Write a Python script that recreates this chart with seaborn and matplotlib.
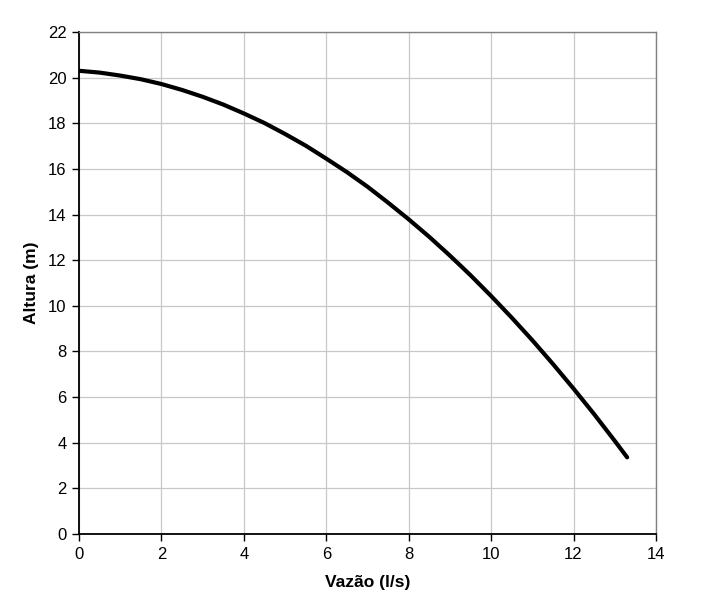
import matplotlib
matplotlib.use("Agg")
import matplotlib.pyplot as plt
import seaborn as sns
import pandas as pd

# Curva da bomba
vazao = [0, 0.5, 1, 1.5, 2, 2.5, 3, 3.5, 4, 4.5, 5, 5.5, 6, 6.5, 7, 7.5,
         8, 8.5, 9, 9.5, 10, 10.5, 11, 11.5, 12, 12.5, 13, 13.3]
altura = [20.3, 20.22, 20.09, 19.93, 19.72, 19.46, 19.16, 18.82, 18.43, 18.01,
          17.53, 17.02, 16.45, 15.86, 15.22, 14.52, 13.79, 13.02, 12.2, 11.34,
          10.43, 9.48, 8.49, 7.45, 6.37, 5.25, 4.08, 3.36]

x_ticks = [0, 2, 4, 6, 8, 10, 12, 14]
y_ticks = [0, 2, 4, 6, 8, 10, 12, 14, 16, 18, 20, 22]

sns.set_style("white")
plt.rcParams['font.family'] = ['Liberation Sans', 'DejaVu Sans']

df = pd.DataFrame({"Vazão (l/s)": vazao, "Altura (m)": altura})

fig = plt.figure(figsize=(7.04, 6.08), dpi=100)
ax = fig.add_axes([0.1122, 0.1217, 0.8196, 0.8257])

sns.lineplot(data=df, x="Vazão (l/s)", y="Altura (m)", ax=ax, color="black",
             linewidth=3.0, solid_capstyle="round", solid_joinstyle="round", zorder=3)

ax.set_xlim(0, 14)
ax.set_ylim(0, 22)
ax.set_xticks(x_ticks)
ax.set_yticks(y_ticks)
ax.grid(True, color="#c8c8c8", linewidth=0.9)
ax.set_axisbelow(True)

for side in ["top", "right"]:
    ax.spines[side].set_color("#808080")
    ax.spines[side].set_linewidth(1.0)
for side in ["left", "bottom"]:
    ax.spines[side].set_color("black")
    ax.spines[side].set_linewidth(1.3)

ax.tick_params(axis="both", direction="out", length=5, width=1, labelsize=12, colors="black", pad=4)
ax.tick_params(left=True, bottom=True)

ax.set_xlabel("Vazão (l/s)", fontsize=12.5, fontweight="bold", labelpad=10, color="black")
ax.set_ylabel("Altura (m)", fontsize=12.5, fontweight="bold", labelpad=6, color="black")

fig.savefig("out.png", dpi=100, facecolor="white")
